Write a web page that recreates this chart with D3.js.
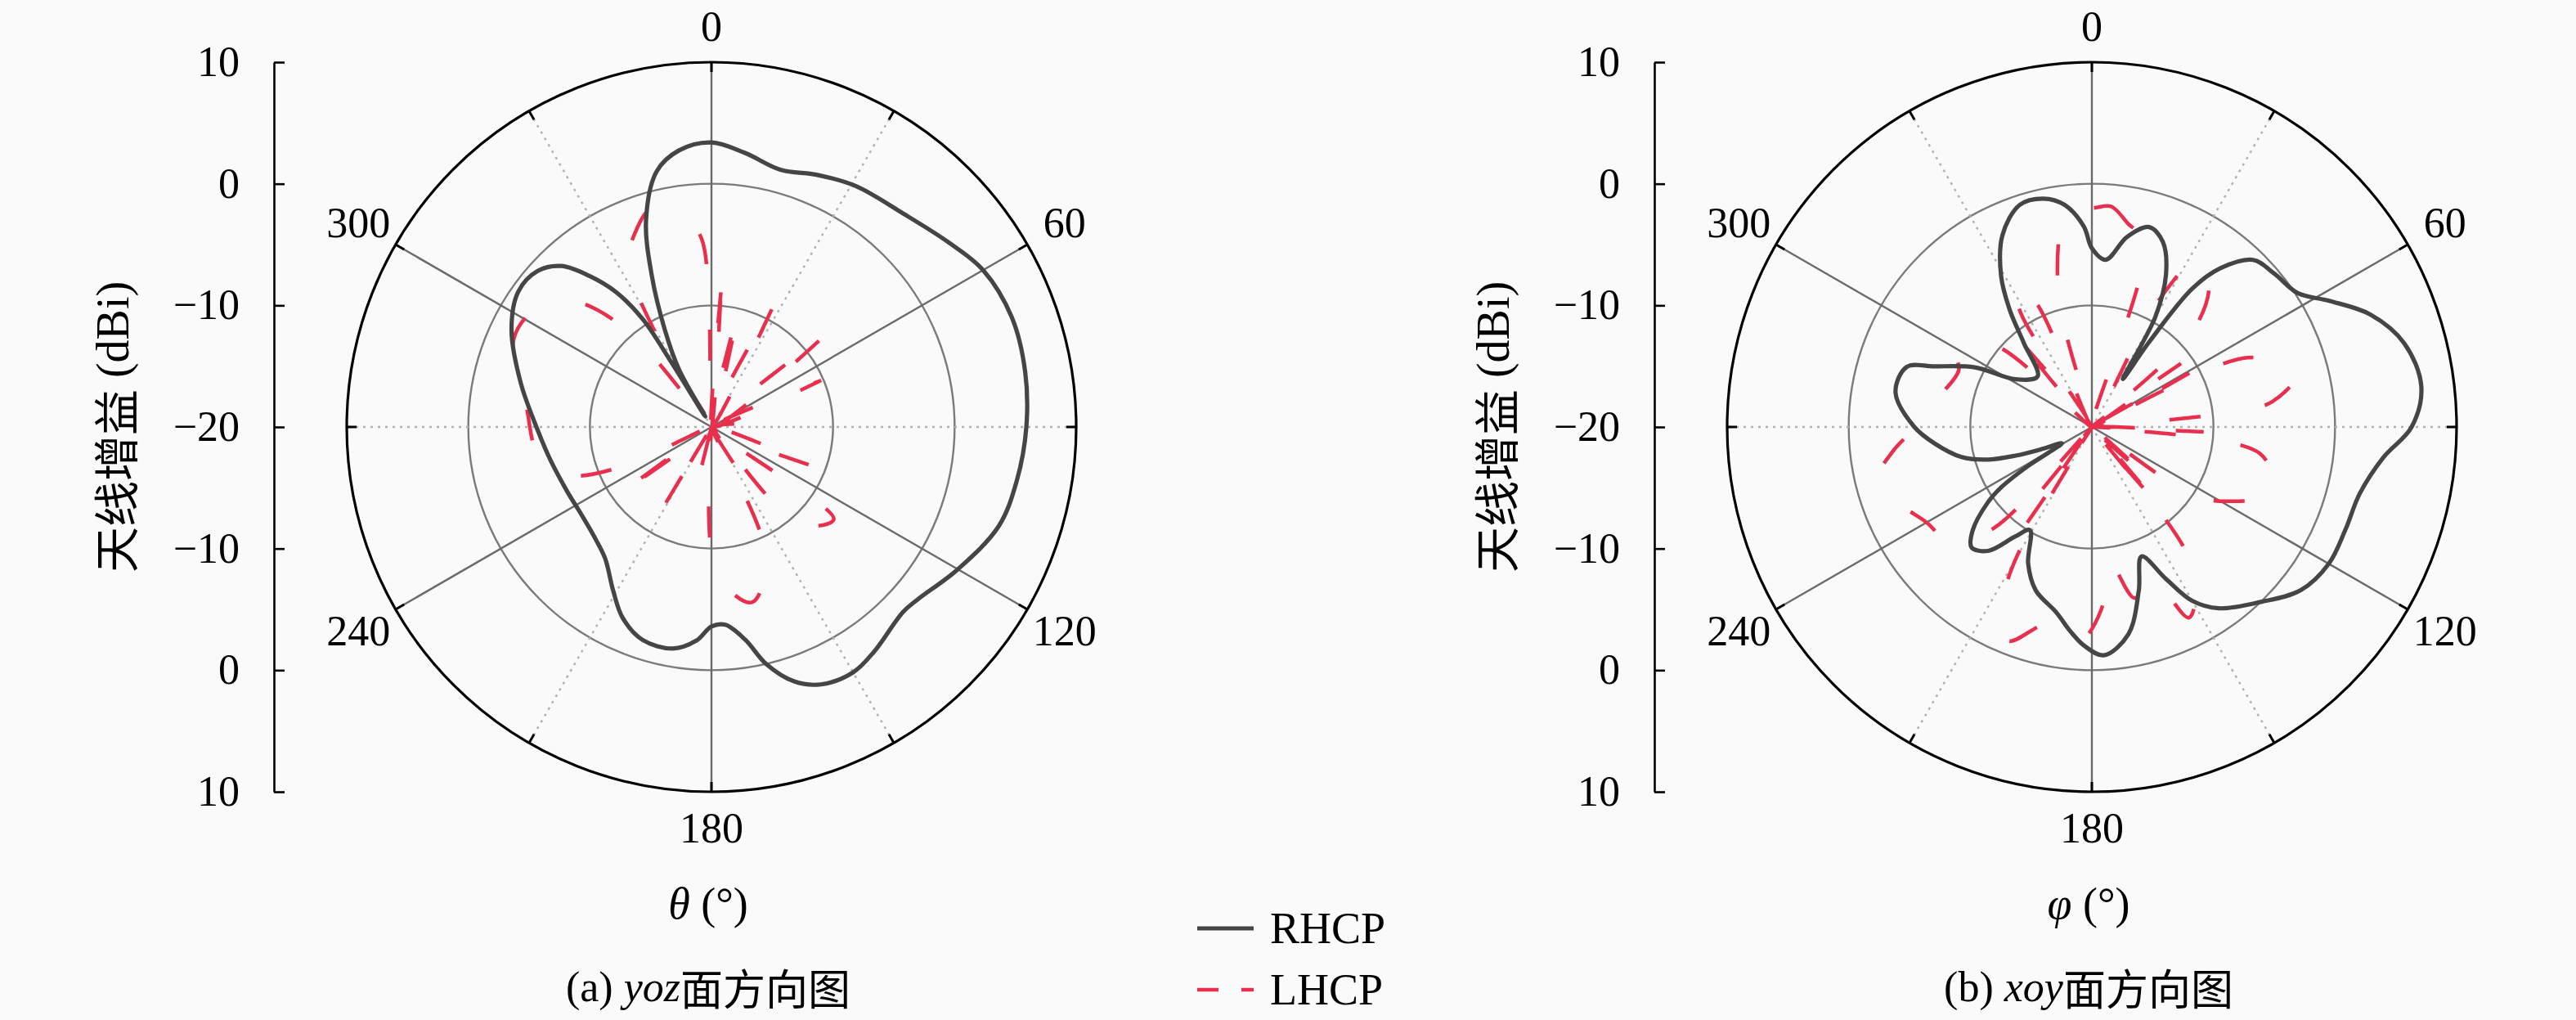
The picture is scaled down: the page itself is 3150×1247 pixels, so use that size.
<!DOCTYPE html>
<html>
<head>
<meta charset="utf-8">
<script src="https://cdn.jsdelivr.net/npm/d3@7"></script>
<style>
  html, body { margin: 0; padding: 0; background: #fafafa; }
  svg { display: block; }
</style>
</head>
<body>
<svg id="chart" width="3150" height="1247"></svg>
<script>
const width = 3150;
const height = 1247;

// radial axis ticks (top to bottom on the side axis) and angle labels
const sideTicks = [10, 0, -10, -20, -10, 0, 10];
const angleLabels = [0, 60, 120, 180, 240, 300];
const ringLevels = [-10, 0];

// (a) yoz plane
const yozRhcpDeg = [0, 7, 15, 23, 31, 42, 52, 60, 70, 80, 90, 100, 109, 120, 130, 134, 144, 150, 157, 162, 167, 171, 176, 180,
  184, 190, 198, 205, 211, 219, 227, 236, 246, 258, 269, 283, 296, 305, 312, 317, 321, 324.7, 327.5, 328.2, 329.2, 330.5, 334.4, 338.5, 342.4, 347.9, 353.3];
const yozRhcpDb = [3.4, 2.7, 1.9, 2.5, 3.1, 3.6, 4.7, 5.8, 6.3, 6.2, 5.9, 5.5, 5.0, 3.4, 2.1, 1.9, 2.8, 3.3, 3.0, 2.0, 0.0, -2.3, -3.7, -3.6,
  -2.4, -1.5, -1.6, -2.7, -4.3, -6.1, -6.8, -7.1, -7.0, -6.5, -5.7, -3.9, -1.7, -0.6, -0.8, -1.9, -4.0, -6.4, -9.5, -13.7, -19, -14.6, -11.1, -6.6, -2.2, 1.5, 2.9];
const yozLhcpDeg = [0, 4, 8, 13, 19, 27, 39, 51, 60, 67, 72, 85, 95, 111, 116, 127, 138, 143, 148, 152, 157, 167, 178, 182,
  190, 194, 198, 205, 211, 217, 228, 234, 240, 246, 252, 262, 276, 285, 294, 303, 312, 319, 324, 329, 333, 338, 345, 352, 357];
const yozLhcpDb = [-20, -8.9, -20, -9.9, -20, -8.4, -20, -7.7, -20, -10.2, -20, -17, -20, -10.9, -20, -7.4, -9.3, -20, -15, -20, -8.5, -5.2, -8, -20,
  -20, -15, -20, -20, -12, -20, -20, -10.3, -20, -12, -7.3, -5.5, -4.7, -3.5, -2.2, -2.5, -4.5, -9.5, -20, -11.5, -5, -3, -1.3, -2.5, -4.5];

// (b) xoy plane
const xoyRhcpDeg = [0, 4.7, 10.5, 16, 21, 26, 30, 32.8, 34, 36, 39, 44, 50, 57, 62, 68, 75, 83, 90, 96, 104, 112, 120, 128, 136, 145, 150, 154, 159, 164, 170, 177,
  182, 186, 191, 199, 205, 211, 215, 220, 225, 229, 234, 236.4, 238.6, 241.6, 246, 249.4, 252.5, 257, 264, 270, 280, 288, 291, 297, 302, 313, 321, 325, 329, 335, 342, 348, 353, 357.7];
const xoyRhcpDb = [-5.3, -6.2, -4.1, -2.9, -3.7, -6.1, -9.6, -15.3, -11.5, -5.9, -3.2, -0.9, -0.4, 0.2, 2.1, 4.7, 6.6, 7.3, 6.3, 4.1, 2.7, 2.5, 2.5, 1.8, 0.0, -1.8, -3.5, -6.1, -8.6, -6.0, -2.7, -1.2,
  -2.0, -3.1, -4.5, -5.8, -7.6, -10.1, -9.0, -6.7, -6.0, -7.0, -9.4, -11.1, -13.9, -17.2, -15.6, -13.3, -11.1, -9.0, -7.0, -5.4, -3.6, -4.0, -6.1, -9.2, -12.6, -13.9, -11.1, -8.2, -5.5, -2.6, -0.8, -0.8, -1.6, -3.5];
const xoyLhcpDeg = [0, 5, 10, 16, 24, 28, 32.5, 40, 47, 51, 54.5, 57, 61, 63, 66, 75, 82, 84, 87, 90, 92.5, 95, 99, 110, 118, 124, 127, 132, 135, 139.5, 141, 144, 153, 159, 166, 173, 177, 183, 190, 195, 201.5, 207,
  210, 212, 214, 216, 218.5, 221, 224, 230, 240, 248, 256, 263, 270, 280, 293, 300, 310, 314, 320, 324, 328, 332, 336, 340, 346, 354];
const xoyLhcpDb = [-2.0, -1.8, -3, -4.2, -20, -8, -3.5, -5, -9, -20, -11, -20, -10.8, -20, -6, -2.5, -5, -8.5, -20, -20, -10.8, -20, -6, -4.1, -7, -10, -20, -13.3, -20, -11, -20, -6, -2.4, -7, -5.5, -9, -5, -2.5, -4, -3, -1.1, -4,
  -7.5, -20, -10.5, -20, -13.5, -20, -8.5, -5, -4.3, -3, -1.8, -3.5, -5.5, -7, -8.1, -7, -9.5, -20, -9.5, -20, -9, -6.3, -9, -20, -8.5, -1.8];

const panels = [
  { cx: 870, rhcpDeg: yozRhcpDeg, rhcpDb: yozRhcpDb, lhcpDeg: yozLhcpDeg, lhcpDb: yozLhcpDb, sym: "θ", tag: "(a) ", plane: "yoz" },
  { cx: 2558, rhcpDeg: xoyRhcpDeg, rhcpDb: xoyRhcpDb, lhcpDeg: xoyLhcpDeg, lhcpDb: xoyLhcpDb, sym: "φ", tag: "(b) ", plane: "xoy" }
];

const cy = 522;
const R = 446;
const serif = "Liberation Serif, DejaVu Serif, serif";
const cjk = "Noto Sans CJK SC, sans-serif";
const rhcpColor = "#454545";
const lhcpColor = "#e8304e";

const svg = d3.select("#chart");
svg.append("rect").attr("width", width).attr("height", height).attr("fill", "#fafafa");

const rScale = d3.scaleLinear().domain([-20, 10]).range([0, R]).clamp(true);
const minus = v => (v < 0 ? "\u2212" + Math.abs(v) : String(v));

const radialLine = d3.lineRadial()
  .angle(d => d[0] * Math.PI / 180)
  .radius(d => rScale(d[1]))
  .curve(d3.curveCatmullRomClosed.alpha(0.5));

function drawPanel(p) {
  const g = svg.append("g").attr("transform", `translate(${p.cx},${cy})`);

  // rings
  g.selectAll("circle.ring")
    .data(ringLevels)
    .enter()
    .append("circle")
    .attr("r", d => rScale(d))
    .attr("fill", "none")
    .attr("stroke", "#7a7a7a")
    .attr("stroke-width", 2.4);

  // spokes every 30 degrees, solid every 60
  const spokes = d3.range(0, 360, 30);
  g.selectAll("line.spoke")
    .data(spokes)
    .enter()
    .append("line")
    .attr("x1", 0).attr("y1", 0)
    .attr("x2", d => R * Math.sin(d * Math.PI / 180))
    .attr("y2", d => -R * Math.cos(d * Math.PI / 180))
    .attr("stroke", d => (d % 60 === 0 ? "#6a6a6a" : "#b0b0b0"))
    .attr("stroke-width", 2.4)
    .attr("stroke-dasharray", d => (d % 60 === 0 ? null : "3,6"));

  // outer circle and ticks
  g.append("circle")
    .attr("r", R)
    .attr("fill", "none")
    .attr("stroke", "#000")
    .attr("stroke-width", 3.2);

  g.selectAll("line.tick")
    .data(spokes)
    .enter()
    .append("line")
    .attr("x1", d => (R - 12) * Math.sin(d * Math.PI / 180))
    .attr("y1", d => -(R - 12) * Math.cos(d * Math.PI / 180))
    .attr("x2", d => R * Math.sin(d * Math.PI / 180))
    .attr("y2", d => -R * Math.cos(d * Math.PI / 180))
    .attr("stroke", "#000")
    .attr("stroke-width", 3);

  // angle labels
  g.selectAll("text.ang")
    .data(angleLabels)
    .enter()
    .append("text")
    .attr("x", d => (490 + 10 * Math.abs(Math.sin(d * Math.PI / 180))) * Math.sin(d * Math.PI / 180))
    .attr("y", d => -(490 + 10 * Math.abs(Math.sin(d * Math.PI / 180))) * Math.cos(d * Math.PI / 180))
    .attr("text-anchor", "middle")
    .attr("dominant-baseline", "central")
    .style("font-family", serif)
    .attr("font-size", 52)
    .text(d => d);

  // data curves
  const rhcp = p.rhcpDeg.map((a, i) => [a, p.rhcpDb[i]]);
  const lhcp = p.lhcpDeg.map((a, i) => [a, p.lhcpDb[i]]);

  g.append("path")
    .attr("d", radialLine(lhcp))
    .attr("fill", "none")
    .attr("stroke", lhcpColor)
    .attr("stroke-width", 4.5)
    .attr("stroke-dasharray", "38,80");

  g.append("path")
    .attr("d", radialLine(rhcp))
    .attr("fill", "none")
    .attr("stroke", rhcpColor)
    .attr("stroke-width", 5.2)
    .attr("stroke-linejoin", "round");

  // side radial axis
  const yAxisScale = d3.scaleLinear().domain([0, 6]).range([cy - R, cy + R]);
  const axis = d3.axisLeft(yAxisScale)
    .tickValues(d3.range(0, 7))
    .tickFormat(i => minus(sideTicks[i]))
    .tickSizeInner(-13)
    .tickSizeOuter(0)
    .tickPadding(42);
  const ax = svg.append("g")
    .attr("transform", `translate(${p.cx - 535},0)`)
    .call(axis);
  ax.select(".domain").attr("stroke", "#000").attr("stroke-width", 2.6);
  ax.selectAll(".tick line").attr("stroke", "#000").attr("stroke-width", 2.6);
  ax.selectAll(".tick text")
    .style("font-family", serif)
    .attr("font-size", 52)
    .attr("fill", "#000");

  // y label
  const yl = svg.append("text")
    .attr("transform", `translate(${p.cx - 732},${cy}) rotate(-90)`)
    .attr("text-anchor", "middle")
    .attr("dominant-baseline", "central")
    .attr("font-size", 56);
  yl.append("tspan").style("font-family", cjk).text("天线增益");
  yl.append("tspan").style("font-family", serif).text(" (dBi)");

  // x label
  const xl = svg.append("text")
    .attr("x", p.cx - 4)
    .attr("y", 1105)
    .attr("text-anchor", "middle")
    .attr("dominant-baseline", "central")
    .style("font-family", serif)
    .attr("font-size", 54);
  xl.append("tspan").attr("font-style", "italic").text(p.sym);
  xl.append("tspan").text(" (°)");

  // caption
  const cap = svg.append("text")
    .attr("x", p.cx - 4)
    .attr("y", 1206)
    .attr("text-anchor", "middle")
    .attr("dominant-baseline", "central")
    .attr("font-size", 52);
  cap.append("tspan").style("font-family", serif).text(p.tag);
  cap.append("tspan").style("font-family", serif).attr("font-style", "italic").text(p.plane);
  cap.append("tspan").style("font-family", cjk).text("面方向图");
}

panels.forEach(drawPanel);

// legend
const legendItems = [
  { name: "RHCP", color: rhcpColor, dash: null, w: 5.2, y: 1135 },
  { name: "LHCP", color: lhcpColor, dash: "26,28", w: 4.5, y: 1210 }
];
const lg = svg.append("g");
lg.selectAll("line")
  .data(legendItems)
  .enter()
  .append("line")
  .attr("x1", 1464).attr("x2", 1533)
  .attr("y1", d => d.y).attr("y2", d => d.y)
  .attr("stroke", d => d.color)
  .attr("stroke-width", d => d.w)
  .attr("stroke-dasharray", d => d.dash);
lg.selectAll("text")
  .data(legendItems)
  .enter()
  .append("text")
  .attr("x", 1553)
  .attr("y", d => d.y)
  .attr("dominant-baseline", "central")
  .style("font-family", serif)
  .attr("font-size", 54)
  .text(d => d.name);
</script>
</body>
</html>
